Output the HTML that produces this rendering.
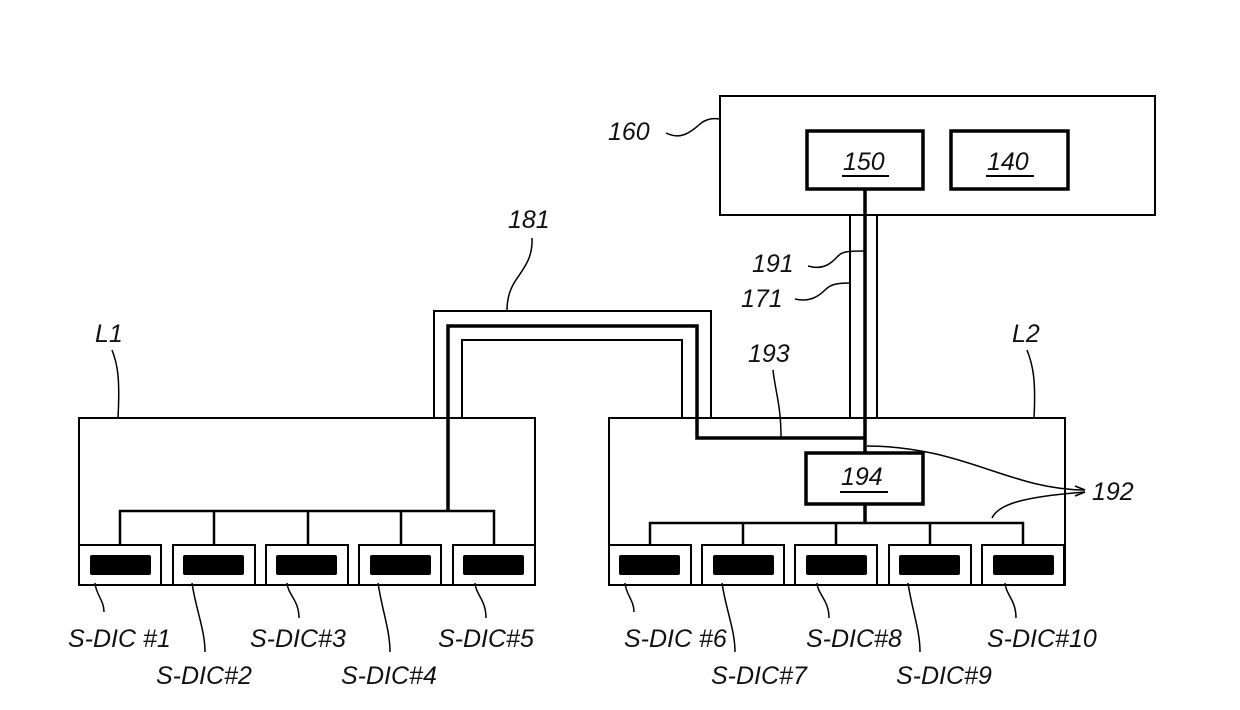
<!DOCTYPE html>
<html><head><style>body{margin:0;background:#fff}svg{display:block}text{font-family:"Liberation Sans",sans-serif;font-style:italic;font-size:25px;fill:#111}</style></head><body>
<svg width="1240" height="710" viewBox="0 0 1240 710" xmlns="http://www.w3.org/2000/svg" fill="none" stroke="#000">
<!-- 160 -->
<rect x="720" y="96" width="435" height="119" stroke-width="2"/>
<rect x="807" y="131" width="116" height="58" stroke-width="3.5"/>
<rect x="951" y="131" width="117" height="58" stroke-width="3.5"/>
<text x="843" y="170" stroke="none">150</text><line x1="842" y1="176" x2="889" y2="176" stroke-width="2"/>
<text x="987" y="170" stroke="none">140</text><line x1="986" y1="176" x2="1034" y2="176" stroke-width="2"/>
<text x="608" y="140" stroke="none">160</text>
<path d="M666 133 C680 140,690 133,700 124 C706 119,712 118,720 119" stroke-width="1.5"/>
<!-- vertical cable -->
<line x1="850" y1="215" x2="850" y2="418" stroke-width="2"/>
<line x1="877" y1="215" x2="877" y2="418" stroke-width="2"/>
<line x1="865" y1="189" x2="865" y2="523" stroke-width="3.5"/>
<text x="752" y="272" stroke="none">191</text>
<text x="741" y="307" stroke="none">171</text>
<path d="M808 266 C822 270,830 265,838 256 C842 252,846 251,864 251" stroke-width="1.5"/>
<path d="M795 299 C808 302,817 298,825 290 C830 285,835 283,850 283" stroke-width="1.5"/>
<!-- 181 cable -->
<path d="M434 418 V311 H711 V418" stroke-width="2"/>
<path d="M462 418 V340 H682 V418" stroke-width="2"/>
<path d="M448 511 V326 H697 V438 H865" stroke-width="3.5"/>
<text x="508" y="228" stroke="none">181</text>
<path d="M532 238 C533 260,522 270,514 283 C509 292,507 300,507 311" stroke-width="1.5"/>
<text x="748" y="362" stroke="none">193</text>
<path d="M773 370 C775 390,781 405,781 437" stroke-width="1.5"/>
<!-- L1 -->
<rect x="79" y="418" width="456" height="167" stroke-width="2"/>
<text x="95" y="342" stroke="none">L1</text>
<path d="M112 350 C118 365,120 380,118 418" stroke-width="1.5"/>
<path d="M120 545 V511 H494 V545 M214 511 V545 M308 511 V545 M401 511 V545" stroke-width="2.5"/>
<!-- L2 -->
<rect x="609" y="418" width="456" height="167" stroke-width="2"/>
<text x="1012" y="342" stroke="none">L2</text>
<path d="M1027 350 C1033 365,1036 380,1034 418" stroke-width="1.5"/>
<path d="M650 545 V523 H1023 V545 M743 523 V545 M836 523 V545 M930 523 V545" stroke-width="2.5"/>
<rect x="806" y="453" width="117" height="51" fill="#fff" stroke-width="3.5"/>
<text x="841" y="485" stroke="none">194</text><line x1="840" y1="492" x2="888" y2="492" stroke-width="2"/>
<text x="1092" y="500" stroke="none">192</text>
<path d="M867 446 C920 446,960 460,990 470 C1020 480,1050 490,1085 490" stroke-width="1.5"/>
<path d="M992 518 C998 505,1020 497,1085 492" stroke-width="1.5"/>
<path d="M1085 490 l-10 -4 M1085 492 l-10 4" stroke-width="1.5"/>
<!-- S-DIC boxes -->
<g stroke-width="2">
<rect x="79" y="545" width="82" height="40" fill="#fff"/><rect x="173" y="545" width="82" height="40" fill="#fff"/><rect x="266" y="545" width="82" height="40" fill="#fff"/><rect x="359" y="545" width="82" height="40" fill="#fff"/><rect x="453" y="545" width="82" height="40" fill="#fff"/>
<rect x="609" y="545" width="82" height="40" fill="#fff"/><rect x="702" y="545" width="82" height="40" fill="#fff"/><rect x="795" y="545" width="82" height="40" fill="#fff"/><rect x="889" y="545" width="82" height="40" fill="#fff"/><rect x="982" y="545" width="82" height="40" fill="#fff"/>
</g>
<g fill="#000" stroke="none">
<rect x="90" y="555" width="61" height="20" rx="2"/><rect x="183" y="555" width="61" height="20" rx="2"/><rect x="276" y="555" width="61" height="20" rx="2"/><rect x="370" y="555" width="61" height="20" rx="2"/><rect x="463" y="555" width="61" height="20" rx="2"/>
<rect x="619" y="555" width="61" height="20" rx="2"/><rect x="713" y="555" width="61" height="20" rx="2"/><rect x="806" y="555" width="61" height="20" rx="2"/><rect x="899" y="555" width="61" height="20" rx="2"/><rect x="993" y="555" width="61" height="20" rx="2"/>
</g>
<g stroke-width="1.5">
<path d="M95 583 C96 595,104 600,104 612"/><path d="M192 583 C196 610,205 630,205 652"/><path d="M287 583 C288 595,299 600,299 618"/><path d="M378 583 C382 610,390 630,390 652"/><path d="M475 583 C476 595,486 600,486 618"/>
<path d="M625 583 C626 595,634 600,634 612"/><path d="M722 583 C726 610,735 630,735 652"/><path d="M817 583 C818 595,829 600,829 618"/><path d="M908 583 C912 610,920 630,920 652"/><path d="M1005 583 C1006 595,1016 600,1016 618"/>
</g>
<g stroke="none">
<text x="68" y="647">S-DIC #1</text><text x="156" y="684">S-DIC#2</text><text x="250" y="647">S-DIC#3</text><text x="341" y="684">S-DIC#4</text><text x="438" y="647">S-DIC#5</text>
<text x="624" y="647">S-DIC #6</text><text x="711" y="684">S-DIC#7</text><text x="806" y="647">S-DIC#8</text><text x="896" y="684">S-DIC#9</text><text x="987" y="647">S-DIC#10</text>
</g>
</svg>
</body></html>
